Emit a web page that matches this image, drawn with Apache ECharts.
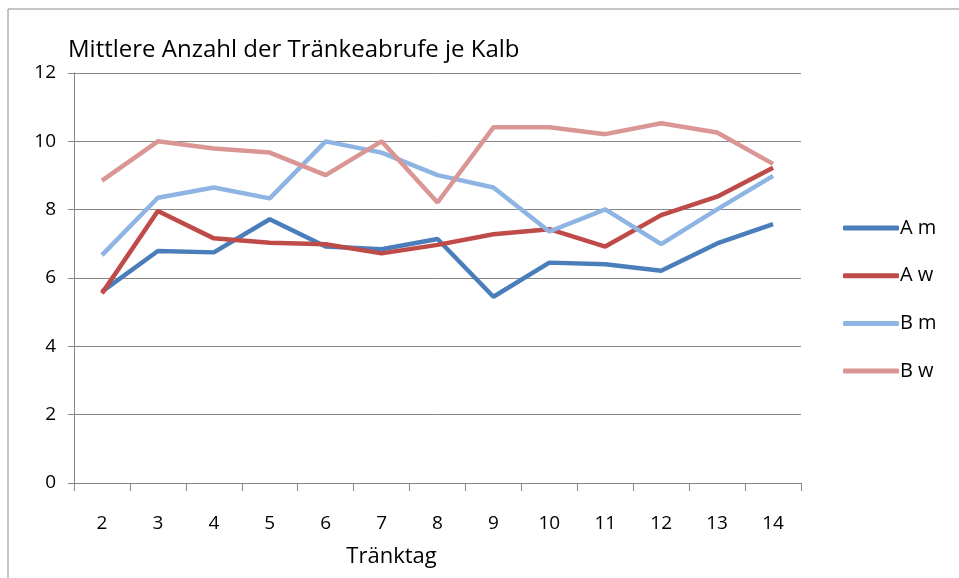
<!DOCTYPE html>
<html>
<head>
<meta charset="utf-8">
<title>Tränkeabrufe</title>
<script src="https://cdn.jsdelivr.net/npm/echarts@6/dist/echarts.min.js"></script>
<style>
  html, body { margin: 0; padding: 0; background: #fff; }
  #chart { width: 959px; height: 578px; }
</style>
</head>
<body>
<div id="chart"></div>
<script>
// Tränktage (x-Achse)
var tage = ['2', '3', '4', '5', '6', '7', '8', '9', '10', '11', '12', '13', '14'];

// mittlere Anzahl der Tränkeabrufe je Kalb
var aM = [5.60, 6.79, 6.75, 7.72, 6.92, 6.84, 7.14, 5.45, 6.45, 6.40, 6.21, 7.01, 7.58];
var aW = [5.55, 7.96, 7.16, 7.03, 6.99, 6.72, 6.97, 7.28, 7.43, 6.92, 7.84, 8.38, 9.23];
var bM = [6.67, 8.35, 8.65, 8.33, 10.0, 9.67, 9.01, 8.65, 7.36, 8.01, 6.99, 8.01, 8.99];
var bW = [8.85, 10.0, 9.79, 9.67, 9.01, 10.0, 8.21, 10.41, 10.41, 10.21, 10.53, 10.26, 9.34];

var chart = echarts.init(document.getElementById('chart'));
var fam = '"Open Sans", sans-serif';

function linie(name, data, color) {
    return {
        name: name,
        type: 'line',
        data: data,
        symbol: 'none',
        lineStyle: { color: color, width: 4.5 },
        itemStyle: { color: color }
    };
}

chart.setOption({
    animation: false,
    title: {
        text: 'Mittlere Anzahl der Tränkeabrufe je Kalb',
        left: 63,
        top: 33,
        textStyle: { fontFamily: fam, fontSize: 24, fontWeight: 'normal', color: '#000' }
    },
    legend: {
        orient: 'vertical',
        left: 838,
        top: 209,
        itemGap: 19.7,
        itemWidth: 56,
        itemHeight: 5,
        icon: 'roundRect',
        textStyle: { fontFamily: fam, fontSize: 20, color: '#000', padding: [0, 0, 0, -4], lineHeight: 28 },
        data: ['A m', 'A w', 'B m', 'B w']
    },
    graphic: [{
        type: 'rect',
        shape: { x: 8, y: 9, width: 1100, height: 1100 },
        style: { fill: 'none', stroke: '#8c8c8c', lineWidth: 1 }
    }],
    grid: { left: 74, right: 158, top: 73, bottom: 95 },
    xAxis: {
        type: 'category',
        data: tage,
        boundaryGap: true,
        name: 'Tränktag',
        nameLocation: 'middle',
        nameGap: 63,
        nameTextStyle: { fontFamily: fam, fontSize: 22, color: '#000', padding: [0, 92, 0, 0] },
        axisLine: { lineStyle: { color: '#868686', width: 1 } },
        axisTick: { show: true, length: 8, inside: false, lineStyle: { color: '#868686' } },
        axisLabel: { fontFamily: fam, fontSize: 19, color: '#000', margin: 31 }
    },
    yAxis: {
        type: 'value',
        min: 0,
        max: 12,
        interval: 2,
        axisLine: { show: true, lineStyle: { color: '#868686', width: 1 } },
        axisTick: { show: true, length: 6, lineStyle: { color: '#868686' } },
        axisLabel: { fontFamily: fam, fontSize: 19, color: '#000', margin: 18 },
        splitLine: { lineStyle: { color: '#868686', width: 1 } }
    },
    series: [
        linie('A m', aM, '#4a7ebb'),
        linie('A w', aW, '#be4b48'),
        linie('B m', bM, '#8eb4e3'),
        linie('B w', bW, '#d99694')
    ]
});
</script>
</body>
</html>
